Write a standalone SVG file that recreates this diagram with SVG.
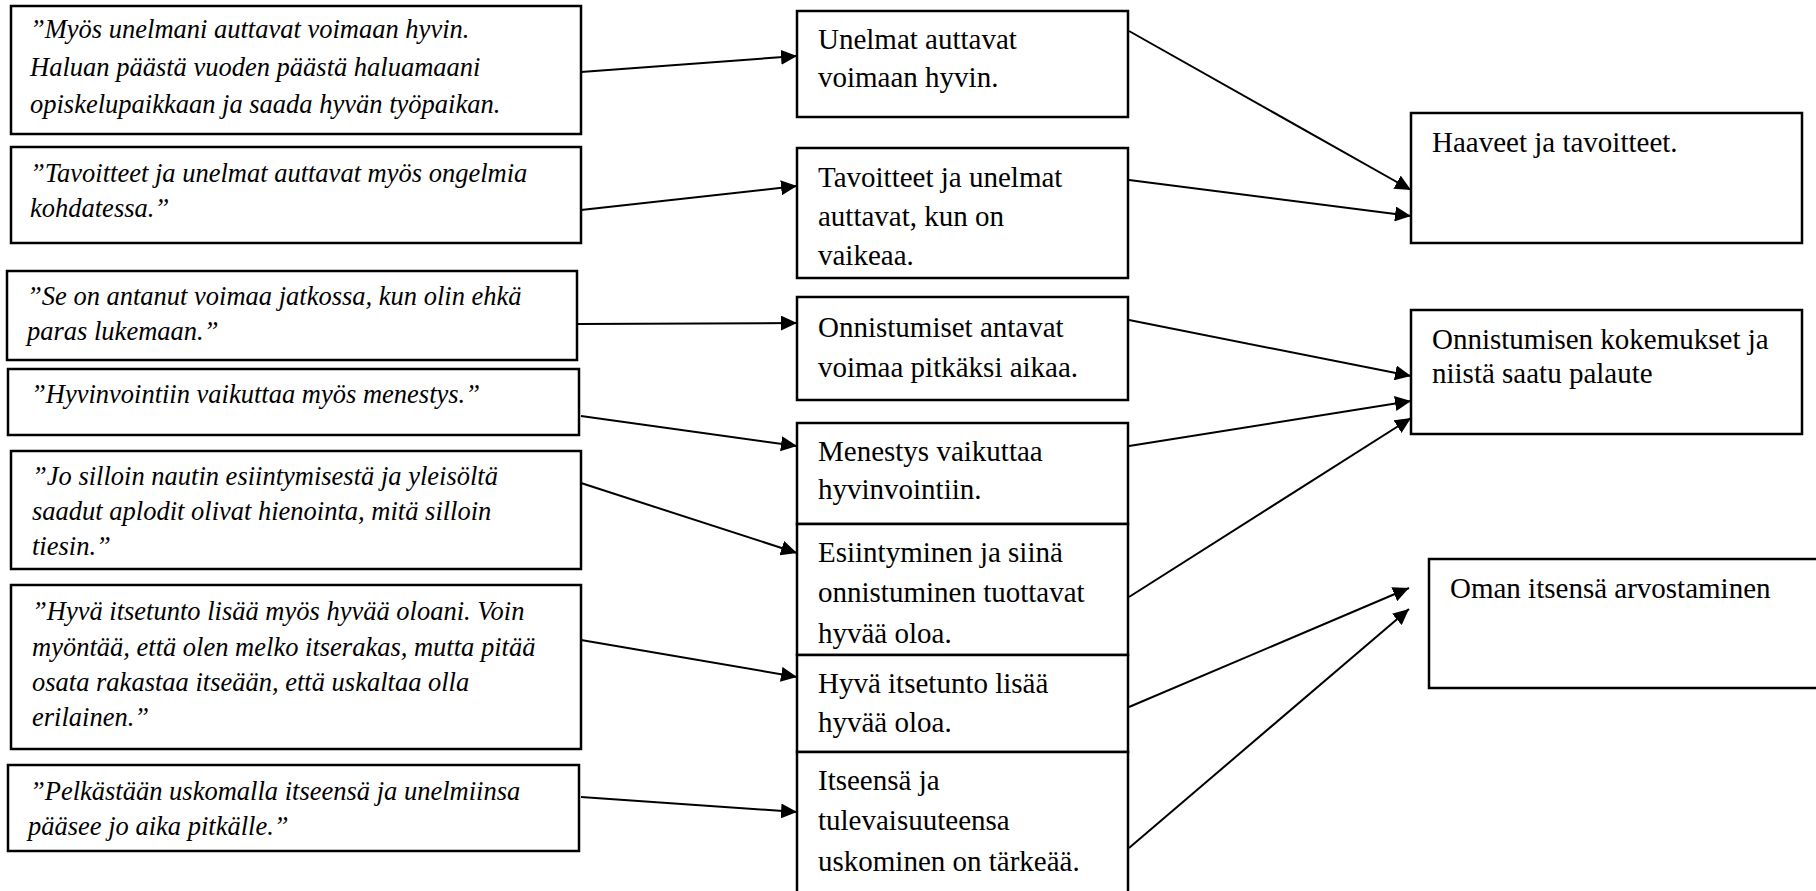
<svg xmlns="http://www.w3.org/2000/svg" width="1816" height="891" viewBox="0 0 1816 891">
<defs>
<style>
.box{fill:#fff;stroke:#000;stroke-width:2.5}
.q{font-family:"Liberation Serif","Times New Roman",serif;font-style:italic;font-size:26.5px;fill:#000}
.t{font-family:"Liberation Serif","Times New Roman",serif;font-size:29px;fill:#000}
.c line{stroke:#000;stroke-width:2;fill:none}
</style>
<marker id="ah" markerUnits="userSpaceOnUse" markerWidth="16" markerHeight="15" refX="16" refY="7.5" orient="auto">
<path d="M0,0 L16,7.5 L0,15 z" fill="#000"/>
</marker>
</defs>
<rect width="1816" height="891" fill="#fff"/>

<g id="q1"><rect class="box" x="11" y="6" width="570" height="128"/>
<text class="q" x="30" y="38">”Myös unelmani auttavat voimaan hyvin.</text>
<text class="q" x="30" y="75.5">Haluan päästä vuoden päästä haluamaani</text>
<text class="q" x="30" y="113">opiskelupaikkaan ja saada hyvän työpaikan.</text></g>

<g id="q2"><rect class="box" x="11" y="147" width="570" height="96"/>
<text class="q" x="30" y="182">”Tavoitteet ja unelmat auttavat myös ongelmia</text>
<text class="q" x="30" y="217">kohdatessa.”</text></g>

<g id="q3"><rect class="box" x="7" y="271" width="570" height="89"/>
<text class="q" x="27" y="305">”Se on antanut voimaa jatkossa, kun olin ehkä</text>
<text class="q" x="27" y="340">paras lukemaan.”</text></g>

<g id="q4"><rect class="box" x="8" y="369" width="571" height="66"/>
<text class="q" x="31" y="403">”Hyvinvointiin vaikuttaa myös menestys.”</text></g>

<g id="q5"><rect class="box" x="11" y="451" width="570" height="118"/>
<text class="q" x="32" y="485">”Jo silloin nautin esiintymisestä ja yleisöltä</text>
<text class="q" x="32" y="520">saadut aplodit olivat hienointa, mitä silloin</text>
<text class="q" x="32" y="555">tiesin.”</text></g>

<g id="q6"><rect class="box" x="11" y="585" width="570" height="164"/>
<text class="q" x="32" y="620">”Hyvä itsetunto lisää myös hyvää oloani. Voin</text>
<text class="q" x="32" y="656">myöntää, että olen melko itserakas, mutta pitää</text>
<text class="q" x="32" y="691">osata rakastaa itseään, että uskaltaa olla</text>
<text class="q" x="32" y="726">erilainen.”</text></g>

<g id="q7"><rect class="box" x="8" y="765" width="571" height="86"/>
<text class="q" x="30" y="800">”Pelkästään uskomalla itseensä ja unelmiinsa</text>
<text class="q" x="28" y="835">pääsee jo aika pitkälle.”</text></g>

<g id="m1"><rect class="box" x="797" y="11" width="331" height="106"/>
<text class="t" x="818" y="49">Unelmat auttavat</text>
<text class="t" x="818" y="87">voimaan hyvin.</text></g>

<g id="m2"><rect class="box" x="797" y="148" width="331" height="130"/>
<text class="t" x="818" y="187">Tavoitteet ja unelmat</text>
<text class="t" x="818" y="226">auttavat, kun on</text>
<text class="t" x="818" y="265">vaikeaa.</text></g>

<g id="m3"><rect class="box" x="797" y="297" width="331" height="103"/>
<text class="t" x="818" y="337">Onnistumiset antavat</text>
<text class="t" x="818" y="377">voimaa pitkäksi aikaa.</text></g>

<g id="m4"><rect class="box" x="797" y="423" width="331" height="101"/>
<text class="t" x="818" y="461">Menestys vaikuttaa</text>
<text class="t" x="818" y="499">hyvinvointiin.</text></g>

<g id="m5"><rect class="box" x="797" y="524" width="331" height="131"/>
<text class="t" x="818" y="562">Esiintyminen ja siinä</text>
<text class="t" x="818" y="602">onnistuminen tuottavat</text>
<text class="t" x="818" y="643">hyvää oloa.</text></g>

<g id="m6"><rect class="box" x="797" y="655" width="331" height="97"/>
<text class="t" x="818" y="693">Hyvä itsetunto lisää</text>
<text class="t" x="818" y="732">hyvää oloa.</text></g>

<g id="m7"><rect class="box" x="797" y="752" width="331" height="145"/>
<text class="t" x="818" y="790">Itseensä ja</text>
<text class="t" x="818" y="830">tulevaisuuteensa</text>
<text class="t" x="818" y="871">uskominen on tärkeää.</text></g>

<g id="r1"><rect class="box" x="1411" y="113" width="391" height="130"/>
<text class="t" x="1432" y="152">Haaveet ja tavoitteet.</text></g>

<g id="r2"><rect class="box" x="1411" y="310" width="391" height="124"/>
<text class="t" x="1432" y="349">Onnistumisen kokemukset ja</text>
<text class="t" x="1432" y="383">niistä saatu palaute</text></g>

<g id="r3"><rect class="box" x="1429" y="559" width="400" height="129"/>
<text class="t" x="1450" y="598">Oman itsensä arvostaminen</text></g>

<g id="connectors" class="c">
<line x1="581" y1="72" x2="797" y2="56" marker-end="url(#ah)"/>
<line x1="581" y1="210" x2="797" y2="186" marker-end="url(#ah)"/>
<line x1="577" y1="324" x2="797" y2="323" marker-end="url(#ah)"/>
<line x1="581" y1="416" x2="797" y2="446" marker-end="url(#ah)"/>
<line x1="581" y1="483" x2="797" y2="553" marker-end="url(#ah)"/>
<line x1="581" y1="640" x2="797" y2="677" marker-end="url(#ah)"/>
<line x1="581" y1="797" x2="797" y2="812" marker-end="url(#ah)"/>
<line x1="1129" y1="31" x2="1411" y2="190" marker-end="url(#ah)"/>
<line x1="1129" y1="180" x2="1411" y2="216" marker-end="url(#ah)"/>
<line x1="1129" y1="320" x2="1411" y2="376" marker-end="url(#ah)"/>
<line x1="1129" y1="446" x2="1411" y2="401" marker-end="url(#ah)"/>
<line x1="1129" y1="597" x2="1411" y2="418" marker-end="url(#ah)"/>
<line x1="1129" y1="707" x2="1409" y2="588" marker-end="url(#ah)"/>
<line x1="1129" y1="848" x2="1409" y2="609" marker-end="url(#ah)"/>
</g>
</svg>
